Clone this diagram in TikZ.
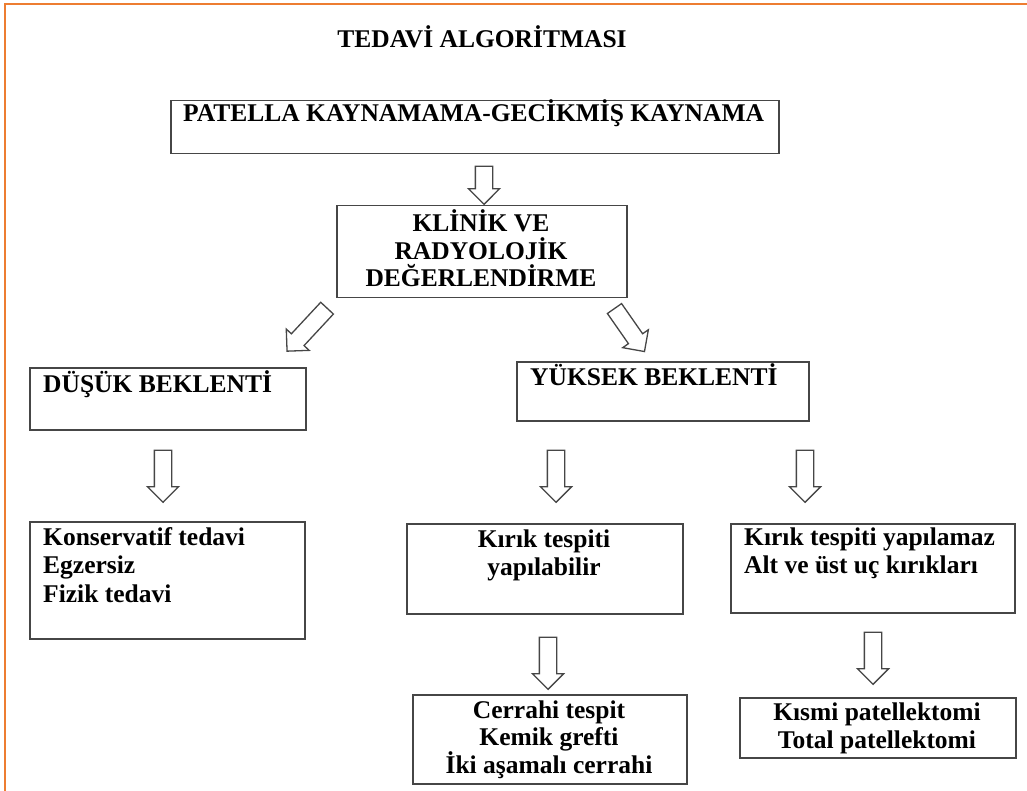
\documentclass[tikz,border=0pt]{standalone}
\usepackage{fontspec}
\setmainfont{Liberation Serif}
\usetikzlibrary{shapes.arrows,calc,positioning}

\definecolor{frameorange}{RGB}{237,125,49}
\definecolor{boxgray}{RGB}{70,70,70}

\tikzset{
  box/.style={draw=boxgray, line width=1.5pt, inner sep=0pt, anchor=north west},
  txt/.style={font=\fontsize{25.5}{27.5}\selectfont\bfseries, inner sep=0pt},
  hollow/.style={single arrow, draw=boxgray, fill=white, line width=1.3pt,
    inner sep=8pt, single arrow head extend=7pt}
}

% hollow block arrow: name, from, to
\newcommand{\blockarrow}[3]{%
  \path let \p1=($(#3)-(#2)$), \n1={atan2(\y1,\x1)}, \n2={veclen(\x1,\y1)} in
    node[hollow, minimum height=\n2, rotate=\n1] (#1) at ($(#2)!0.5!(#3)$) {};}

\begin{document}
\begin{tikzpicture}[x=1pt, y=-1pt]
  \useasboundingbox (0,0) rectangle (1027,791);

  % frame
  \draw[frameorange, line width=2pt] (5,791) -- (5,4) -- (1027,4);

  % title
  \node[txt, anchor=base] (title) at (482,48) {TEDAVİ ALGORİTMASI};

  % boxes
  \node[box, minimum width=608, minimum height=53] (patella) at (170,100) {};
  \node[box, minimum width=290, minimum height=92] (klinik) at (336,205) {};
  \node[box, minimum width=276, minimum height=62] (dusuk) at (29,367) {};
  \node[box, minimum width=292, minimum height=59] (yuksek) at (516,361) {};
  \node[box, minimum width=275, minimum height=117] (konserv) at (29,521) {};
  \node[box, minimum width=276, minimum height=90] (yapilabilir) at (406,523) {};
  \node[box, minimum width=284, minimum height=89] (yapilamaz) at (730,523) {};
  \node[box, minimum width=274, minimum height=89] (cerrahi) at (412,694) {};
  \node[box, minimum width=276, minimum height=60] (patellek) at (739,697) {};

  % texts (multi-line: base = last line)
  \node[txt, anchor=base west] (patella-t) at (183,122) {PATELLA KAYNAMAMA-GECİKMİŞ KAYNAMA};
  \node[txt, anchor=base, align=center] (klinik-t) at (481,287) {KLİNİK VE\\RADYOLOJİK\\DEĞERLENDİRME};
  \node[txt, anchor=base west] (dusuk-t) at (43,392) {DÜŞÜK BEKLENTİ};
  \node[txt, anchor=base west] (yuksek-t) at (530,385) {YÜKSEK BEKLENTİ};
  \node[txt, anchor=base west, align=left, font=\fontsize{25.5}{28.5}\selectfont\bfseries]
    (konserv-t) at (43,602) {Konservatif tedavi\\Egzersiz\\Fizik tedavi};
  \node[txt, anchor=base, align=center] (yapilabilir-t) at (544,575) {Kırık tespiti\\yapılabilir};
  \node[txt, anchor=base west, align=left] (yapilamaz-t) at (744,573) {Kırık tespiti yapılamaz\\Alt ve üst uç kırıkları};
  \node[txt, anchor=base, align=center] (cerrahi-t) at (549,773) {Cerrahi tespit\\Kemik grefti\\İki aşamalı cerrahi};
  \node[txt, anchor=base, align=center] (patellek-t) at (877,748) {Kısmi patellektomi\\Total patellektomi};

  % arrow ends
  \coordinate (a1s) at (484,162);  \coordinate (a1e) at (484,200);
  \coordinate (a2s) at (330,305);  \coordinate (a2e) at (290,348);
  \coordinate (a3s) at (612,305);  \coordinate (a3e) at (642,348);
  \coordinate (a4s) at (163,446);  \coordinate (a4e) at (163,498);
  \coordinate (a5s) at (556,446);  \coordinate (a5e) at (556,498);
  \coordinate (a6s) at (805,446);  \coordinate (a6e) at (805,498);
  \coordinate (a7s) at (548,633);  \coordinate (a7e) at (548,685);
  \coordinate (a8s) at (873,628);  \coordinate (a8e) at (873,680);

  % arrows
  \blockarrow{arr1}{a1s}{a1e}
  \blockarrow{arr2}{a2s}{a2e}
  \blockarrow{arr3}{a3s}{a3e}
  \blockarrow{arr4}{a4s}{a4e}
  \blockarrow{arr5}{a5s}{a5e}
  \blockarrow{arr6}{a6s}{a6e}
  \blockarrow{arr7}{a7s}{a7e}
  \blockarrow{arr8}{a8s}{a8e}
\end{tikzpicture}
\end{document}
